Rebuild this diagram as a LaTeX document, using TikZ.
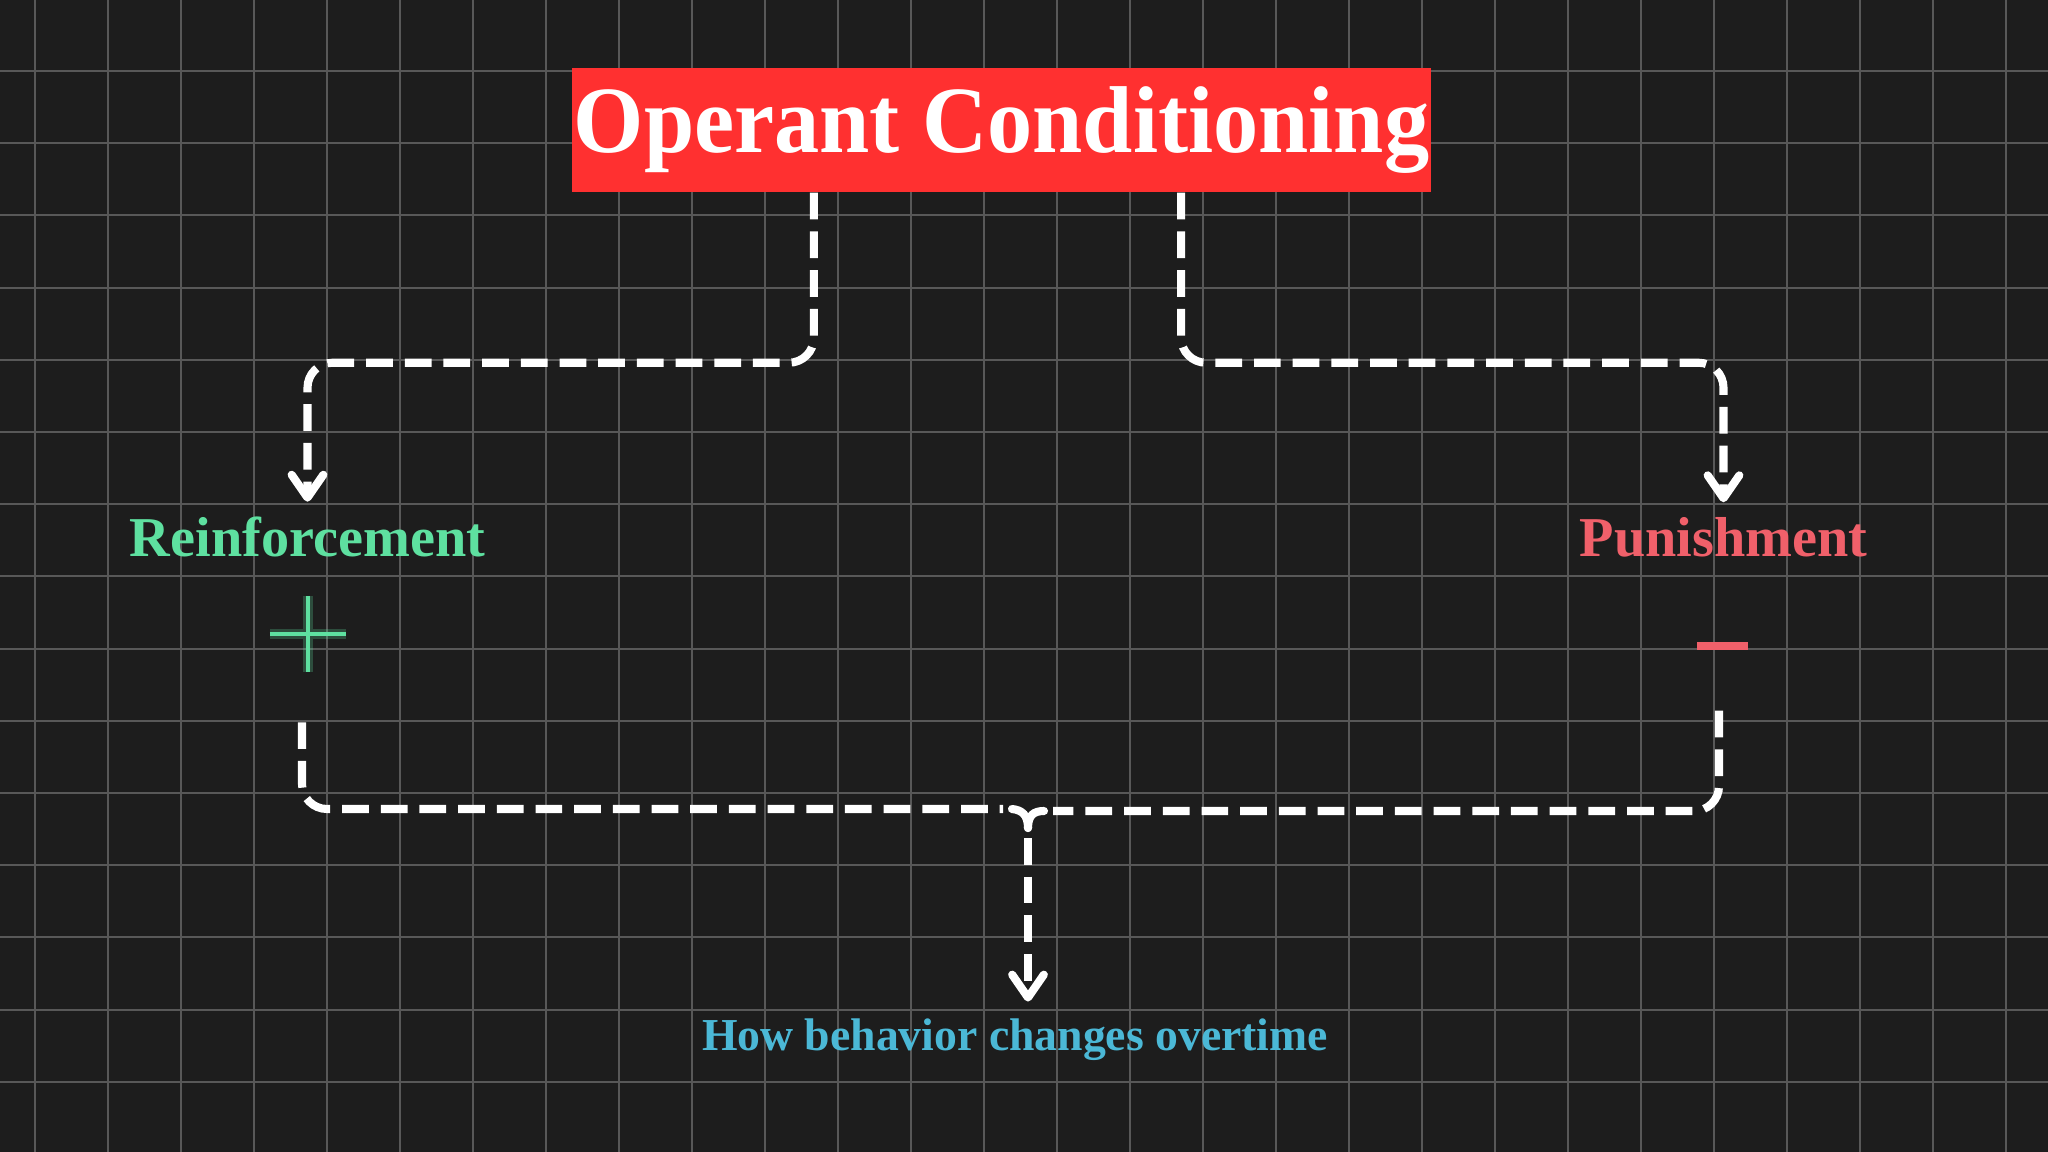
\documentclass[tikz,border=0pt]{standalone}
\usepackage{fontspec}
\setmainfont{Liberation Serif}
\usetikzlibrary{arrows.meta,calc}
\definecolor{bgc}{HTML}{1D1D1D}
\definecolor{gridc}{HTML}{585858}
\definecolor{tred}{HTML}{FF3030}
\definecolor{rgreen}{HTML}{5EE0A0}
\definecolor{pred}{HTML}{F0606A}
\definecolor{bcyan}{HTML}{4BB8D6}
\begin{document}
\begin{tikzpicture}[x=0.01cm,y=-0.01cm,
  gridline/.style={draw=gridc,line width=0.55pt},
  conn/.style={draw=white,line width=2.3pt,dash pattern=on 7.6pt off 3.4pt,rounded corners=0.25cm},
  tipx/.style={-{Straight Barb[length=6.5pt,width=9pt,line cap=round,round]}},
  lbl/.style={anchor=base,inner sep=0pt,font=\bfseries\fontsize{16}{16}\selectfont}]
\useasboundingbox (0,0) rectangle (2048,1152);
\fill[bgc] (0,0) rectangle (2048,1152);
\foreach \i in {0,...,27} \draw[gridline] ({35+73*\i},0) -- ({35+73*\i},1152);
\foreach \j in {0,...,14} \draw[gridline] (0,{71+72.2*\j}) -- (2048,{71+72.2*\j});

% title
\node[fill=tred,minimum width=8.59cm,minimum height=1.24cm,inner sep=0pt,text=white,
  font=\bfseries\fontsize{27}{27}\selectfont] (t) at (1001.5,130)
  {\resizebox{8.55cm}{\height}{Operant Conditioning}};

% labels
\node[lbl,text=rgreen] (r) at (307.5,557) {Reinforcement};
\node[lbl,text=pred] (p) at (1723.5,557) {Punishment};
\node[anchor=base,inner sep=0pt,text=bcyan,font=\bfseries\fontsize{13}{13}\selectfont] (b) at (1015,1050) {How behavior changes overtime};

% plus and minus
\node[minimum size=0.75cm,inner sep=0pt] (plus) at (308,634) {};
\draw[rgreen,opacity=0.25,line width=2.6pt] (plus.north) -- (plus.south) (plus.west) -- (plus.east);
\draw[rgreen,line width=1.1pt] (plus.north) -- (plus.south) (plus.west) -- (plus.east);
\node[minimum width=0.51cm,minimum height=0.08cm,inner sep=0pt,fill=pred] (minus) at (1722.5,646) {};

% top connectors
\draw[conn,tipx] ([xshift=-1.875cm]t.south) -- ++(0,170) -| ($(r.north)+(0,-15)$);
\draw[conn,tipx] ([xshift=1.795cm]t.south) -- ++(0,170) -| ($(p.north)+(0,-15)$);

% bottom bracket
\coordinate (mg) at (1028,828);
\coordinate (ml) at (1003,809);
\coordinate (mr) at (1053,811);
\draw[conn] ([xshift=-0.06cm,yshift=-0.5cm]plus.south) |- (ml);
\draw[conn] ([xshift=-0.035cm,yshift=-0.6cm]minus.south) |- (mr);
\draw[white,line width=2.3pt,line cap=round] (1012,809) .. controls (1022,810) and (1028,815) .. (mg);
\draw[white,line width=2.3pt,line cap=round] (1044,811) .. controls (1034,811) and (1028,815) .. (mg);
\draw[conn,tipx] ($(mg)+(0,10)$) -- ($(b.north -| mg)+(0,-16)$);
\end{tikzpicture}
\end{document}
